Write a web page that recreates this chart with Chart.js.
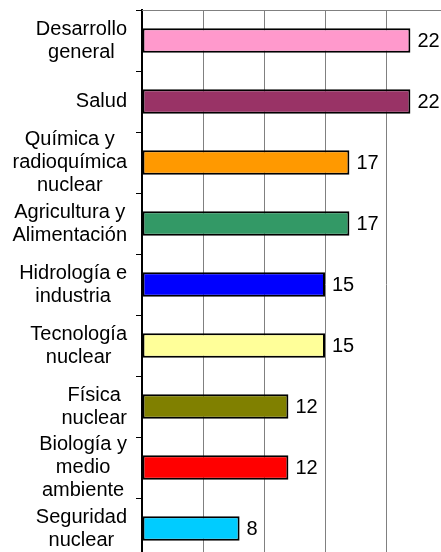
<!DOCTYPE html>
<html>
<head>
<meta charset="utf-8">
<script src="https://cdn.jsdelivr.net/npm/chart.js@4"></script>
<style>
  html, body { margin: 0; padding: 0; overflow: hidden; background: #fff; }
  #chart { display: block; }
</style>
</head>
<body>
<canvas id="chart" width="448" height="560"></canvas>
<script>
// categories (each one split into its lines)
const categories = [
    ['Desarrollo', 'general'],
    ['Salud'],
    ['Química y', 'radioquímica', 'nuclear'],
    ['Agricultura y', 'Alimentación'],
    ['Hidrología e', 'industria'],
    ['Tecnología', 'nuclear'],
    ['Física', 'nuclear'],
    ['Biología y', 'medio', 'ambiente'],
    ['Seguridad', 'nuclear']
];
const values = [22, 22, 17, 17, 15, 15, 12, 12, 8];
const barColors = ['#FF99CC', '#993366', '#FF9900', '#339966', '#0000FF', '#FFFF99', '#808000', '#FF0000', '#00CCFF'];

const FONT = '20px "Liberation Sans", Arial, sans-serif';

// grey frame line along the top of the plot area
const topLine = {
    id: 'topLine',
    afterDraw(chart) {
        const { ctx, chartArea } = chart;
        ctx.save();
        ctx.fillStyle = '#808080';
        ctx.fillRect(chartArea.left, Math.round(chartArea.top), chartArea.right - chartArea.left, 1);
        ctx.restore();
    }
};

// category labels: each block right-aligned to the axis, lines centred inside it
const categoryLabels = {
    id: 'categoryLabels',
    afterDraw(chart) {
        const ctx = chart.ctx;
        const y = chart.scales.y;
        const right = y.right - 15;
        const lineH = 23;
        ctx.save();
        ctx.font = FONT;
        ctx.fillStyle = '#000';
        ctx.textAlign = 'center';
        ctx.textBaseline = 'middle';
        categories.forEach((lines, i) => {
            const w = Math.max(...lines.map(l => ctx.measureText(l).width));
            const cx = right - w / 2;
            const cy = y.getPixelForTick(i);
            const top = cy - (lines.length - 1) * lineH / 2;
            lines.forEach((l, j) => ctx.fillText(l, cx, top + j * lineH));
        });
        ctx.restore();
    }
};

// value labels at the end of each bar
const valueLabels = {
    id: 'valueLabels',
    afterDatasetsDraw(chart) {
        const ctx = chart.ctx;
        const meta = chart.getDatasetMeta(0);
        ctx.save();
        ctx.font = FONT;
        ctx.fillStyle = '#000';
        ctx.textAlign = 'left';
        ctx.textBaseline = 'middle';
        meta.data.forEach((bar, i) => {
            ctx.fillText(String(values[i]), bar.x + 7, bar.y + 1);
        });
        ctx.restore();
    }
};

new Chart(document.getElementById('chart').getContext('2d'), {
    type: 'bar',
    data: {
        labels: categories.map(c => c.join(' ')),
        datasets: [{
            data: values,
            backgroundColor: barColors,
            borderColor: '#000',
            borderWidth: 2,
            borderSkipped: false,
            barPercentage: 0.4,
            categoryPercentage: 1
        }]
    },
    options: {
        indexAxis: 'y',
        responsive: false,
        animation: false,
        layout: { padding: { top: 10, right: 1, bottom: 1, left: 0 } },
        plugins: {
            legend: { display: false },
            tooltip: { enabled: false }
        },
        scales: {
            x: {
                min: 0,
                max: 25,
                ticks: { display: false, stepSize: 5 },
                grid: {
                    color: c => c.tick && c.tick.value === 0 ? '#000' : '#808080',
                    lineWidth: 1,
                    drawTicks: false
                },
                border: { display: false },
                afterFit: s => { s.height = 0; }
            },
            y: {
                ticks: { display: false },
                grid: {
                    offset: true,
                    color: 'rgba(0,0,0,0)',
                    tickColor: '#000',
                    tickLength: 6,
                    drawTicks: true
                },
                border: { display: true, color: '#000', width: 2 },
                afterFit: s => { s.width = 142; }
            }
        }
    },
    plugins: [topLine, categoryLabels, valueLabels]
});
</script>
</body>
</html>
